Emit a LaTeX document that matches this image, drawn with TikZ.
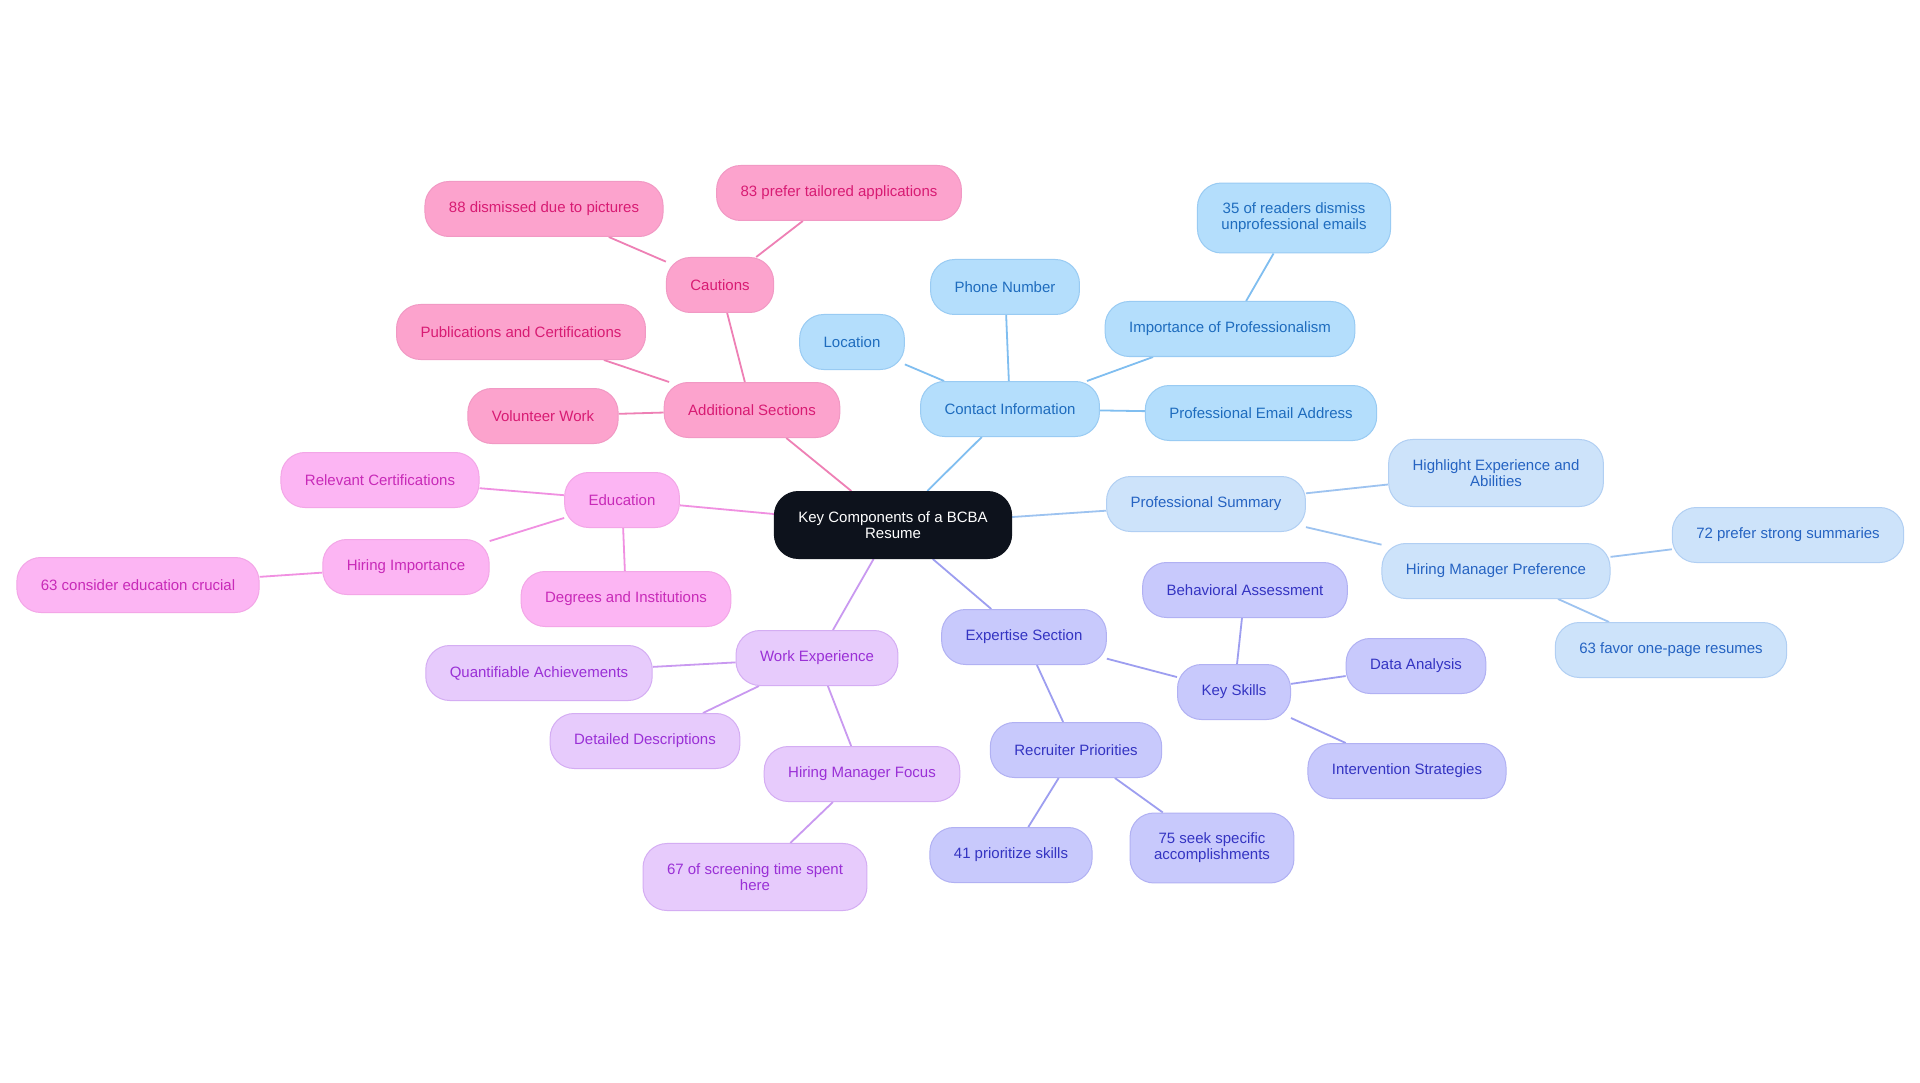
\documentclass[tikz,border=0pt]{standalone}
\usepackage{fontspec}
\setmainfont{Liberation Sans}
\usetikzlibrary{backgrounds}
\definecolor{croot}{HTML}{0D121C}
\definecolor{caddf}{HTML}{FCA3CD}
\definecolor{caddt}{HTML}{D81B73}
\definecolor{caddl}{HTML}{EE80B5}
\definecolor{cconf}{HTML}{B4DEFC}
\definecolor{ccont}{HTML}{1E6CBE}
\definecolor{cconl}{HTML}{80BEF0}
\definecolor{csumf}{HTML}{CDE3FA}
\definecolor{csumt}{HTML}{2563C2}
\definecolor{csuml}{HTML}{9DC3F0}
\definecolor{cexpf}{HTML}{C8C9FC}
\definecolor{cexpt}{HTML}{3434C2}
\definecolor{cexpl}{HTML}{9D9EF0}
\definecolor{cwrkf}{HTML}{E7CBFC}
\definecolor{cwrkt}{HTML}{9A30D6}
\definecolor{cwrkl}{HTML}{C999F0}
\definecolor{ceduf}{HTML}{FCB5F3}
\definecolor{cedut}{HTML}{C82AB8}
\definecolor{cedul}{HTML}{F090E1}
\tikzset{
  box/.style={draw, rounded corners=24pt, line width=1pt, minimum height=55pt,
    inner xsep=24pt, inner ysep=20pt, align=center,
    font=\fontsize{15}{16}\selectfont},
  rootn/.style={box, fill=croot, draw=croot, text=white, rounded corners=24pt},
  addn/.style={box, fill=caddf, draw=caddl!80, text=caddt},
  conn/.style={box, fill=cconf, draw=cconl!80, text=ccont},
  sumn/.style={box, fill=csumf, draw=csuml!80, text=csumt},
  expn/.style={box, fill=cexpf, draw=cexpl!80, text=cexpt},
  wrkn/.style={box, fill=cwrkf, draw=cwrkl!80, text=cwrkt},
  edun/.style={box, fill=ceduf, draw=cedul!80, text=cedut},
  link/.style={line width=1.8pt},
  addl/.style={link, draw=caddl},
  conl/.style={link, draw=cconl},
  suml/.style={link, draw=csuml},
  expl/.style={link, draw=cexpl},
  wrkl/.style={link, draw=cwrkl},
  edul/.style={link, draw=cedul},
}
\begin{document}
\begin{tikzpicture}[x=1pt,y=-1pt]
\useasboundingbox (0,0) rectangle (1920,1083);
\node[rootn] (root) at (893,525) {Key Components of a BCBA\\Resume};
% additional sections
\node[addn] (adds) at (752,410) {Additional Sections};
\node[addn] (caut) at (720,285) {Cautions};
\node[addn] (dism) at (544,209) {88 dismissed due to pictures};
\node[addn] (tail) at (839,193) {83 prefer tailored applications};
\node[addn] (publ) at (521,332) {Publications and Certifications};
\node[addn] (volu) at (543,416) {Volunteer Work};
% contact information
\node[conn] (cont) at (1010,409) {Contact Information};
\node[conn] (loca) at (852,342) {Location};
\node[conn] (phon) at (1005,287) {Phone Number};
\node[conn] (impo) at (1230,329) {Importance of Professionalism};
\node[conn] (read) at (1294,218) {35 of readers dismiss\\unprofessional emails};
\node[conn] (mail) at (1261,413) {Professional Email Address};
% professional summary
\node[sumn] (summ) at (1206,504) {Professional Summary};
\node[sumn] (high) at (1496,473) {Highlight Experience and\\Abilities};
\node[sumn] (pref) at (1496,571) {Hiring Manager Preference};
\node[sumn] (strg) at (1788,535) {72 prefer strong summaries};
\node[sumn] (onep) at (1671,650) {63 favor one-page resumes};
% expertise
\node[expn] (expe) at (1024,637) {Expertise Section};
\node[expn] (keys) at (1234,692) {Key Skills};
\node[expn] (beha) at (1245,590) {Behavioral Assessment};
\node[expn] (data) at (1416,666) {Data Analysis};
\node[expn] (inte) at (1407,771) {Intervention Strategies};
\node[expn] (recr) at (1076,750) {Recruiter Priorities};
\node[expn] (prio) at (1011,855) {41 prioritize skills};
\node[expn] (seek) at (1212,848) {75 seek specific\\accomplishments};
% work experience
\node[wrkn] (work) at (817,658) {Work Experience};
\node[wrkn] (quan) at (539,673) {Quantifiable Achievements};
\node[wrkn] (deta) at (645,741) {Detailed Descriptions};
\node[wrkn] (focu) at (862,774) {Hiring Manager Focus};
\node[wrkn] (scrn) at (755,877) {67 of screening time spent\\here};
% education
\node[edun] (educ) at (622,500) {Education};
\node[edun] (cert) at (380,480) {Relevant Certifications};
\node[edun] (himp) at (406,567) {Hiring Importance};
\node[edun] (cruc) at (138,585) {63 consider education crucial};
\node[edun] (degr) at (626,599) {Degrees and Institutions};
\begin{scope}[on background layer]
\fill[white] (0,0) rectangle (1920,1083);
\draw[addl] (root) -- (adds);
\draw[addl] (adds) -- (caut);
\draw[addl] (caut) -- (dism);
\draw[addl] (caut) -- (tail);
\draw[addl] (adds) -- (publ);
\draw[addl] (adds) -- (volu);
\draw[conl] (root) -- (cont);
\draw[conl] (cont) -- (loca);
\draw[conl] (cont) -- (phon);
\draw[conl] (cont) -- (impo);
\draw[conl] (impo) -- (read);
\draw[conl] (cont) -- (mail);
\draw[suml] (root) -- (summ);
\draw[suml] (summ) -- (high);
\draw[suml] (summ) -- (pref);
\draw[suml] (pref) -- (strg);
\draw[suml] (pref) -- (onep);
\draw[expl] (root) -- (expe);
\draw[expl] (expe) -- (keys);
\draw[expl] (keys) -- (beha);
\draw[expl] (keys) -- (data);
\draw[expl] (keys) -- (inte);
\draw[expl] (expe) -- (recr);
\draw[expl] (recr) -- (prio);
\draw[expl] (recr) -- (seek);
\draw[wrkl] (root) -- (work);
\draw[wrkl] (work) -- (quan);
\draw[wrkl] (work) -- (deta);
\draw[wrkl] (work) -- (focu);
\draw[wrkl] (focu) -- (scrn);
\draw[edul] (root) -- (educ);
\draw[edul] (educ) -- (cert);
\draw[edul] (educ) -- (himp);
\draw[edul] (himp) -- (cruc);
\draw[edul] (educ) -- (degr);
\end{scope}
\end{tikzpicture}
\end{document}
